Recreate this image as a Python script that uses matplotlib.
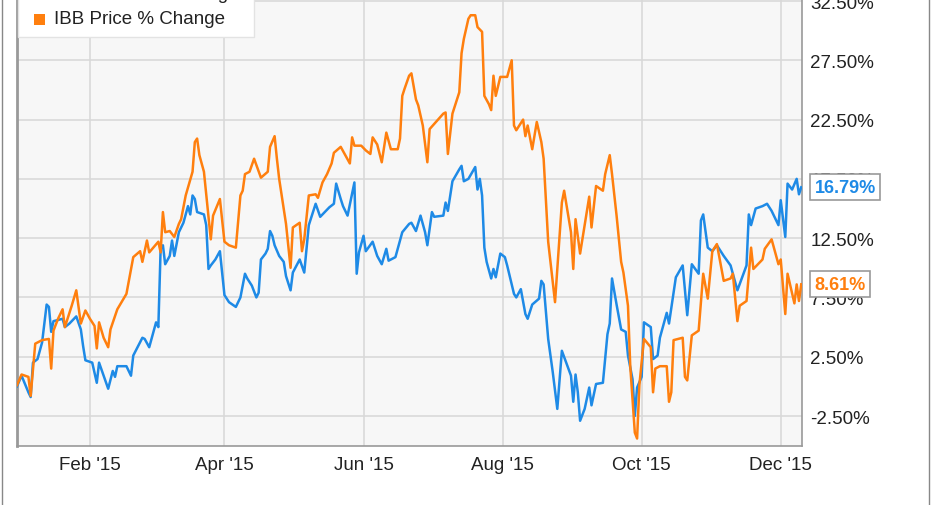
import numpy as np
import matplotlib
matplotlib.use("Agg")
import matplotlib.pyplot as plt
from matplotlib.lines import Line2D
from matplotlib.patches import Rectangle

plt.rcParams['font.family'] = ['Liberation Sans', 'DejaVu Sans']

# days since 2014-12-31
blue_days = [0, 2, 5, 6, 7, 9, 11, 13, 14, 15, 16, 20, 21, 23, 26, 28, 29, 30, 33, 35,
             36, 38, 40, 42, 43, 44, 48, 50, 51, 55, 56, 58, 61, 62, 63, 64, 65, 67, 68, 69,
             71, 73, 75, 76, 77, 78, 79, 82, 83, 84, 85, 87, 89, 91, 93, 96, 98, 100, 101, 103,
             105, 106, 107, 109, 110, 111, 112, 113, 115, 117, 118, 120, 121, 124, 126, 128, 131, 133, 137, 139,
             140, 142, 143, 145, 148, 149, 150, 152, 153, 156, 158, 160, 162, 163, 166, 167, 169, 172, 173, 175,
             177, 179, 180, 182, 183, 187, 188, 189, 191, 194, 195, 196, 198, 201, 202, 203, 204, 205, 206, 208,
             209, 210, 212, 214, 215, 218, 219, 221, 223, 224, 226, 229, 230, 231, 233, 235, 237, 239, 243, 244,
             245, 246, 247, 249, 251, 252, 254, 257, 259, 260, 261, 263, 265, 267, 268, 270, 271, 272, 274, 275,
             278, 279, 281, 282, 285, 286, 289, 292, 294, 296, 299, 300, 301, 303, 305, 307, 310, 313, 316, 320,
             321, 322, 324, 327, 329, 331, 334, 335, 337, 338, 340, 342, 343, 344]
blue_vals = [0.0, 0.9, -0.5, -0.9, 2.0, 2.3, 3.7, 6.9, 6.7, 4.6, 5.5, 5.7, 5.0, 5.3, 5.9, 4.8, 3.4, 2.2, 2.0, 0.3,
             2.0, 0.9, -0.2, 1.3, 0.8, 1.7, 1.7, 0.9, 2.6, 4.1, 4.0, 3.3, 5.4, 5.0, 11.6, 11.9, 10.3, 11.0, 12.3, 11.0,
             13.0, 13.8, 15.2, 14.5, 16.1, 15.8, 14.7, 14.5, 13.6, 9.9, 10.2, 10.7, 11.4, 7.7, 7.1, 6.7, 7.5, 9.5, 9.1, 8.5,
             7.5, 7.9, 10.7, 11.2, 11.6, 13.1, 12.7, 11.9, 11.0, 10.5, 9.3, 8.1, 9.6, 10.7, 9.6, 13.6, 15.4, 14.3, 15.1, 15.4,
             17.1, 15.8, 15.2, 14.4, 17.2, 9.5, 11.3, 12.7, 11.4, 12.2, 11.0, 10.3, 11.6, 10.6, 10.9, 11.6, 13.0, 13.7, 13.8, 13.1,
             14.4, 13.0, 11.9, 14.7, 14.3, 14.4, 15.5, 14.8, 17.3, 18.3, 18.6, 17.3, 17.5, 18.5, 16.6, 17.5, 16.1, 11.7, 10.5, 9.1,
             9.9, 9.2, 11.2, 10.9, 10.2, 7.8, 7.5, 8.2, 6.1, 5.7, 6.9, 7.4, 8.9, 8.6, 4.0, 1.2, -1.9, 3.0, 0.9, -1.3,
             1.0, -0.5, -2.9, -1.9, -0.1, -1.6, 0.2, 0.3, 4.4, 5.3, 9.1, 6.9, 4.8, 4.6, 2.6, 0.6, -2.5, -0.1, 0.8, 5.4,
             5.0, 2.3, 2.6, 4.1, 6.2, 5.3, 9.2, 10.2, 6.0, 10.3, 9.5, 14.0, 14.5, 11.7, 11.4, 11.9, 11.0, 10.2, 8.1, 10.2,
             14.5, 13.6, 15.0, 15.2, 15.4, 14.8, 13.6, 15.7, 12.6, 17.1, 16.6, 17.5, 16.2, 16.79]

ibb_days = [0, 2, 5, 6, 8, 11, 14, 15, 16, 18, 20, 21, 24, 26, 28, 30, 32, 34, 35, 36,
            38, 40, 41, 44, 48, 51, 54, 55, 57, 58, 62, 63, 64, 65, 67, 69, 71, 72, 74, 77,
            78, 79, 80, 82, 85, 86, 89, 91, 93, 96, 98, 99, 100, 102, 104, 107, 110, 111, 113, 114,
            115, 117, 118, 120, 121, 124, 125, 126, 128, 131, 132, 134, 136, 138, 139, 142, 146, 147, 148, 151,
            153, 155, 156, 158, 160, 162, 164, 167, 168, 169, 170, 172, 173, 175, 176, 178, 180, 181, 187, 188,
            189, 191, 194, 195, 196, 198, 199, 201, 202, 204, 205, 207, 208, 209, 210, 212, 215, 217, 218, 219,
            222, 223, 224, 226, 228, 230, 231, 233, 236, 239, 240, 243, 244, 245, 247, 251, 252, 254, 257, 258,
            260, 261, 263, 265, 266, 268, 269, 271, 272, 273, 275, 278, 279, 280, 282, 285, 286, 287, 288, 292,
            293, 294, 296, 299, 301, 303, 305, 307, 310, 313, 314, 316, 317, 320, 322, 323, 327, 328, 331, 334,
            335, 337, 338, 341, 342, 343, 344]
ibb_vals = [0.1, 1.0, 0.8, -0.8, 3.6, 3.9, 4.0, 1.5, 4.7, 5.7, 6.5, 5.0, 6.8, 8.1, 5.3, 6.4, 5.7, 5.1, 3.2, 5.4,
            4.1, 3.3, 4.8, 6.5, 7.8, 10.9, 11.4, 10.5, 12.3, 11.3, 12.2, 11.3, 14.7, 13.0, 13.1, 12.6, 13.7, 14.1, 16.1, 18.1,
            20.6, 20.9, 19.5, 18.1, 12.4, 14.4, 15.8, 12.2, 11.9, 11.7, 16.1, 16.5, 17.9, 18.1, 19.2, 17.6, 18.1, 20.2, 21.1, 19.2,
            17.5, 15.0, 13.7, 10.0, 13.4, 13.8, 11.4, 12.4, 16.1, 16.2, 15.9, 17.2, 17.9, 18.8, 19.7, 20.2, 18.8, 21.0, 20.3, 20.3,
            19.9, 19.6, 21.0, 20.4, 18.9, 21.4, 20.0, 20.0, 20.9, 24.5, 25.1, 26.2, 26.4, 24.2, 23.7, 22.0, 18.9, 21.7, 23.0, 23.1,
            19.6, 23.0, 24.8, 28.1, 29.3, 31.0, 31.3, 31.3, 30.3, 29.9, 24.5, 23.8, 23.3, 26.2, 24.5, 26.1, 26.1, 27.5, 22.0, 21.6,
            22.5, 21.1, 22.0, 20.0, 22.3, 20.6, 19.2, 12.2, 7.1, 15.5, 16.5, 13.0, 9.9, 14.1, 11.2, 16.0, 13.4, 16.9, 16.5, 17.9,
            19.5, 17.9, 14.4, 10.5, 9.6, 6.8, 1.7, -3.9, -4.4, 0.1, 4.0, 3.3, -0.5, 1.5, 1.7, 1.7, -1.3, -0.5, 3.9, 4.1,
            0.8, 0.5, 4.3, 4.7, 9.5, 7.4, 11.4, 12.0, 8.9, 9.1, 9.5, 5.5, 6.8, 7.2, 11.7, 9.9, 10.7, 11.6, 12.4, 10.3,
            10.7, 6.1, 9.5, 7.0, 8.6, 7.2, 8.61]

blue_label = "GILD Price % Change"
ibb_label = "IBB Price % Change"
month_ticks = ['2015-02-01', '2015-04-01', '2015-06-01', '2015-08-01', '2015-10-01', '2015-12-01']
month_names = ["Feb '15", "Apr '15", "Jun '15", "Aug '15", "Oct '15", "Dec '15"]
y_ticks = [-2.5, 2.5, 7.5, 12.5, 17.5, 22.5, 27.5, 32.5]

BLUE = '#1e8ae6'
ORANGE = '#ff7f0e'
W, H = 931, 506

base = np.datetime64('2014-12-31')
blue_x = base + np.array(blue_days).astype('timedelta64[D]')
ibb_x = base + np.array(ibb_days).astype('timedelta64[D]')

fig = plt.figure(figsize=(W / 100, H / 100), dpi=100)
ax = fig.add_axes([17 / W, 59 / H, 785 / W, 447 / H])
ax.set_facecolor('#f7f7f7')

ax.plot(blue_x, blue_vals, color=BLUE, lw=1.8, zorder=3)
ax.plot(ibb_x, ibb_vals, color=ORANGE, lw=1.8, zorder=3)

ax.set_xlim(base, np.datetime64('2015-12-10T08:00'))
ax.set_ylim(-5.03, 32.67)

ax.set_xticks([np.datetime64(d) for d in month_ticks])
ax.set_xticklabels(month_names)
ax.set_yticks(y_ticks)
ax.set_yticklabels(['%.2f%%' % v for v in y_ticks])
ax.yaxis.tick_right()
ax.tick_params(axis='both', length=0, labelsize=13.5, colors='#222222')
ax.tick_params(axis='y', pad=6)
ax.tick_params(axis='x', pad=7)
ax.grid(True, color='#d9d9d9', lw=1.2)
ax.set_axisbelow(True)
for side in ['left', 'right', 'bottom']:
    ax.spines[side].set_color('#999999')
    ax.spines[side].set_linewidth(1.2)
ax.spines['top'].set_visible(False)
ax.spines['left'].set_linewidth(2)

# legend box at the top left, its first row cut off by the image edge
fig.add_artist(Rectangle((18 / W, (H - 38) / H), 236 / W, 40 / H, transform=fig.transFigure,
                         facecolor='white', edgecolor='#e3e3e3', lw=1, zorder=5))
for row_y, col, label in [(-6, BLUE, blue_label), (20, ORANGE, ibb_label)]:
    fig.add_artist(Rectangle((34 / W, (H - row_y - 5.5) / H), 11 / W, 11 / H,
                             transform=fig.transFigure, facecolor=col, edgecolor='none', zorder=6))
    fig.text(54 / W, (H - row_y) / H, label, fontsize=13.5, color='#222222',
             va='center', ha='left', zorder=7)

# end value tags
for vals, col in [(blue_vals, BLUE), (ibb_vals, ORANGE)]:
    ax.annotate('%.2f%%' % vals[-1], xy=(1.0, vals[-1]), xycoords=('axes fraction', 'data'),
                xytext=(9, 0), textcoords='offset points', va='center', ha='left',
                fontsize=13, fontweight='bold', color=col, zorder=10,
                annotation_clip=False,
                bbox=dict(boxstyle='square,pad=0.25', fc='white', ec='#999999', lw=1.2))

fig.add_artist(Line2D([1.5 / W, 1.5 / W], [0, 1], color='#888888', lw=1))
fig.add_artist(Line2D([929 / W, 929 / W], [0, 1], color='#888888', lw=1))

fig.savefig('out.png', dpi=100)
